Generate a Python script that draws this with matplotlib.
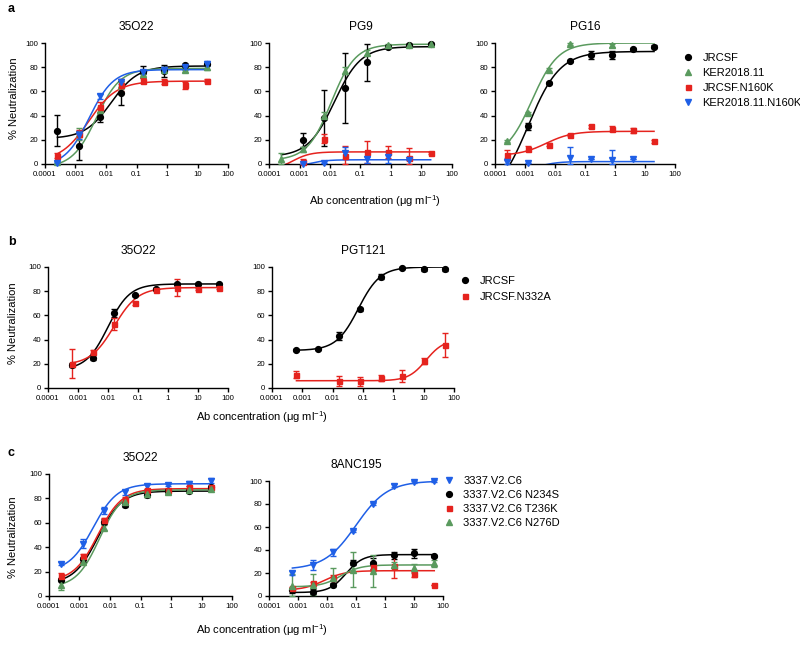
import numpy as np
import matplotlib.pyplot as plt
from matplotlib.lines import Line2D
from matplotlib.ticker import NullLocator

plt.rcParams['font.family'] = ['Liberation Sans', 'DejaVu Sans']
plt.rcParams['mathtext.fontset'] = 'custom'
plt.rcParams['mathtext.rm'] = 'Liberation Sans'
plt.rcParams['mathtext.it'] = 'Liberation Sans:italic'

# concentrations (ug/ml), 5-fold dilutions
conc20 = [0.000256, 0.00128, 0.0064, 0.032, 0.16, 0.8, 4, 20]
conc50 = [0.00064, 0.0032, 0.016, 0.08, 0.4, 2, 10, 50]
nan = np.nan

BLACK = '#000000'
GREEN = '#5a9a5e'
RED = '#e5231e'
BLUE = '#1f5fe6'

# ---- a: JRCSF, KER2018.11, JRCSF.N160K, KER2018.11.N160K
a_labels = ['JRCSF', 'KER2018.11', 'JRCSF.N160K', 'KER2018.11.N160K']
a_colors = [BLACK, GREEN, RED, BLUE]
a_markers = ['o', '^', 's', 'v']

a1_vals = [[27.5, 15, 38.5, 59, 76, 77, 81.5, 82.5],
           [1.5, 25, 45, 65, 74, 78, 78, 80],
           [7, 25, 47, 65, 69, 68, 65, 69],
           [1, 24, 56, 68, 76, 78, 80, 83]]
a1_errs = [[13, 12, 4, 10, 5, 5, 1, 1],
           [1, 5, 2, 3, 2, 2, 2, 2],
           [2, 3, 4, 5, 2, 2, 3, 1],
           [1, 3, 2, 2, 2, 2, 2, 2]]
# fit: bottom, top, ec50, hill
a1_fits = [[21, 81, 0.015, 1.0],
           [-3, 79, 0.0048, 1.1],
           [2, 68.5, 0.0027, 0.94],
           [-2, 78, 0.0028, 1.09]]

a2_vals = [[nan, 20, 38, 63, 84, 97, 98, 99],
           [4, 12, 40, 77, 92, 98, 98, 99],
           [nan, 2, 21, 7, 10, 10, 5, 9.3],
           [nan, 0, 1, 9, 4, 6, 3, nan]]
a2_errs = [[0, 6, 23, 29, 15, 1, 1, 1],
           [5, 2, 3, 3, 2, 1, 1, 1],
           [0, 2, 4, 8, 9, 5, 8, 1],
           [0, 0, 0, 5, 3, 5, 0, 0]]
a2_fits = [[6, 97, 0.014, 1.0],
           [3, 99, 0.011, 1.1],
           [-5, 10, 0.0006, 1.5],
           [-3, 3.5, 0.002, 1.5]]

a3_vals = [[nan, 31, 67, 85, 90, 90, 95, 97],
           [19, 42, 78, 99, nan, 98, nan, nan],
           [7.7, 12.6, 16, 24, 31, 29, 28, 18.6],
           [2, 1, nan, 5, 4, 3, 4, nan]]
a3_errs = [[0, 3, 1, 1, 3, 3, 1, 1],
           [1, 1, 1, 1, 0, 1, 0, 0],
           [4, 2, 1, 1, 1, 2, 2, 1],
           [3, 0, 0, 9, 0, 8.5, 0, 0]]
a3_fits = [[-30, 93, 0.00127, 0.823],
           [5, 100, 0.0017, 1.0],
           [7, 27, 0.005, 1.0],
           [-4, 2, 0.004, 1.5]]

# ---- b: JRCSF, JRCSF.N332A
b_labels = ['JRCSF', 'JRCSF.N332A']
b_colors = [BLACK, RED]
b_markers = ['o', 's']

b1_vals = [[19, 25, 62, 77, 82, 86, 86, 86],
           [20, 30, 53, 70, 81, 83, 82, 83]]
b1_errs = [[2, 2, 3, 1, 1, 1, 1, 1],
           [12, 1, 5, 1, 1, 7, 1, 1]]
b1_fits = [[15, 86, 0.01, 1.2],
           [19, 83, 0.016, 1.1]]

b2_vals = [[31.5, 32.3, 43, 65, 92, 99, 98, 98],
           [11, nan, 6, 5.5, 8, 9.6, 22, 35.6]]
b2_errs = [[1, 1, 3, 1, 2, 1, 1, 1],
           [3, 0, 4, 3.5, 2.5, 5, 2.5, 10]]
b2_fits = [[31, 100, 0.07, 1.2],
           [6, 40, 12, 1.5]]

# ---- c: 3337.V2.C6 variants
c_labels = ['3337.V2.C6', '3337.V2.C6 N234S', '3337.V2.C6 T236K', '3337.V2.C6 N276D']
c_colors = [BLUE, BLACK, RED, GREEN]
c_markers = ['v', 'o', 's', '^']

c1_vals = [[26.6, 43, 70, 85, 89.8, 91, 92, 94.5],
           [13.5, 30, 61, 74.7, 83, 85.7, 86, 89],
           [16.8, 32.7, 62, 79, 86.5, 87, 89, 89],
           [8.8, 28, 56, 77, 84, 85, 87, 88]]
c1_errs = [[1, 4, 3, 2, 2, 1, 2, 2],
           [1, 2, 2, 2, 2, 2, 1, 1],
           [2, 2, 2, 2, 1, 1, 1, 1],
           [4, 2, 2, 1, 1, 1, 1, 1]]
c1_fits = [[20, 92, 0.0028, 1.1],
           [10, 86, 0.004, 1.1],
           [12, 88, 0.004, 1.1],
           [7, 87, 0.0045, 1.15]]

c2_vals = [[20, 27, 38, 56.4, 79.7, 96, 99, 100],
           [5, 3.8, 10, 29, 28.4, 35.6, 37, 35],
           [7, 11, 16, nan, 25, 26, 18.8, 10],
           [9, 10, 16, 23, 22, 27, 24, 28.4]]
c2_errs = [[2, 4, 3, 1, 1, 1, 1, 1],
           [2, 2, 1, 2, 5, 3, 4, 1],
           [1, 1, 2, 0, 3, 10, 2, 0],
           [10, 9, 8, 15, 14, 3, 4, 3]]
c2_fits = [[23, 100, 0.1, 0.8],
           [3, 36, 0.045, 1.5],
           [5, 22, 0.008, 1.2],
           [8, 27, 0.03, 1.3]]

xticks = [1e-4, 1e-3, 1e-2, 1e-1, 1, 10, 100]
xticklabels = ['0.0001', '0.001', '0.01', '0.1', '1', '10', '100']

W, H = 800, 649
fig = plt.figure(figsize=(W / 100, H / 100), dpi=100)


def logistic(x, bottom, top, ec50, hill):
    return bottom + (top - bottom) / (1 + (ec50 / x) ** hill)


def px_axes(x0, y0, x1, y1):
    return fig.add_axes([x0 / W, 1 - y1 / H, (x1 - x0) / W, (y1 - y0) / H])


def draw_panel(ax, conc, vals, errs, fits, colors, markers, title):
    conc = np.array(conc)
    xs = np.logspace(np.log10(conc[0]), np.log10(conc[-1]), 300)
    for v, e, f, c, m in zip(vals, errs, fits, colors, markers):
        v = np.array(v, dtype=float)
        e = np.array(e, dtype=float)
        ax.plot(xs, logistic(xs, *f), color=c, lw=1.1, zorder=2)
        lo = np.minimum(e, np.nan_to_num(v))
        ax.errorbar(conc, v, yerr=[lo, e], fmt='none', ecolor=c, elinewidth=1,
                    capsize=2.3, capthick=1, zorder=3, clip_on=False)
        ms = 3.6 if m == 's' else 4.2
        ax.plot(conc, v, ls='none', marker=m, color=c, ms=ms, mec=c,
                zorder=4, clip_on=False)
    ax.set_xscale('log')
    ax.set_xlim(1e-4, 100)
    ax.set_ylim(0, 100)
    ax.set_xticks(xticks)
    ax.set_xticklabels(xticklabels)
    ax.xaxis.set_minor_locator(NullLocator())
    ax.set_yticks(range(0, 101, 20))
    for s in ['top', 'right']:
        ax.spines[s].set_visible(False)
    for s in ['left', 'bottom']:
        ax.spines[s].set_linewidth(1.0)
    ax.tick_params(direction='out', length=3, width=1.0, labelsize=5.6, pad=2)
    ax.set_title(title, fontsize=8.6, pad=9.5)


def add_legend(labels, colors, markers, x, y, spacing):
    handles = [Line2D([], [], ls='none', marker=m, color=c, ms=(3.6 if m == 's' else 4.2))
               for c, m in zip(colors, markers)]
    fig.legend(handles, labels, loc='upper left', bbox_to_anchor=(x / W, 1 - y / H),
               frameon=False, fontsize=8, handlelength=0.8, handletextpad=0.85,
               borderpad=0, borderaxespad=0, labelspacing=spacing)


xlab = 'Ab concentration (μg ml$^{-1}$)'

# row a
ax = px_axes(45, 43, 228, 164)
draw_panel(ax, conc20, a1_vals, a1_errs, a1_fits, a_colors, a_markers, '35O22')
ax = px_axes(269, 43, 452, 164)
draw_panel(ax, conc20, a2_vals, a2_errs, a2_fits, a_colors, a_markers, 'PG9')
ax = px_axes(495, 43, 675, 164)
draw_panel(ax, conc20, a3_vals, a3_errs, a3_fits, a_colors, a_markers, 'PG16')
add_legend(a_labels, a_colors, a_markers, 684, 53, 0.45)
fig.text(375 / W, 1 - 201 / H, xlab, ha='center', va='center', fontsize=8)
fig.text(14 / W, 1 - 98 / H, '% Neutralization', rotation=90, ha='center', va='center', fontsize=8)
fig.text(8 / W, 1 - 9 / H, 'a', fontweight='bold', fontsize=9, ha='left', va='center')

# row b
ax = px_axes(48, 267, 228, 388)
draw_panel(ax, conc50, b1_vals, b1_errs, b1_fits, b_colors, b_markers, '35O22')
ax = px_axes(272, 267, 454, 388)
draw_panel(ax, conc50, b2_vals, b2_errs, b2_fits, b_colors, b_markers, 'PGT121')
add_legend(b_labels, b_colors, b_markers, 461, 276, 0.55)
fig.text(262 / W, 1 - 417 / H, xlab, ha='center', va='center', fontsize=8)
fig.text(13 / W, 1 - 323 / H, '% Neutralization', rotation=90, ha='center', va='center', fontsize=8)
fig.text(8 / W, 1 - 242 / H, 'b', fontweight='bold', fontsize=9, ha='left', va='center')

# row c
ax = px_axes(49, 474, 232, 596)
draw_panel(ax, conc20, c1_vals, c1_errs, c1_fits, c_colors, c_markers, '35O22')
ax = px_axes(269, 481, 443, 596)
draw_panel(ax, conc50, c2_vals, c2_errs, c2_fits, c_colors, c_markers, '8ANC195')
add_legend(c_labels, c_colors, c_markers, 445, 476, 0.36)
fig.text(262 / W, 1 - 630 / H, xlab, ha='center', va='center', fontsize=8)
fig.text(13 / W, 1 - 537 / H, '% Neutralization', rotation=90, ha='center', va='center', fontsize=8)
fig.text(8 / W, 1 - 453 / H, 'c', fontweight='bold', fontsize=9, ha='left', va='center')

fig.savefig('out.png', dpi=100)
